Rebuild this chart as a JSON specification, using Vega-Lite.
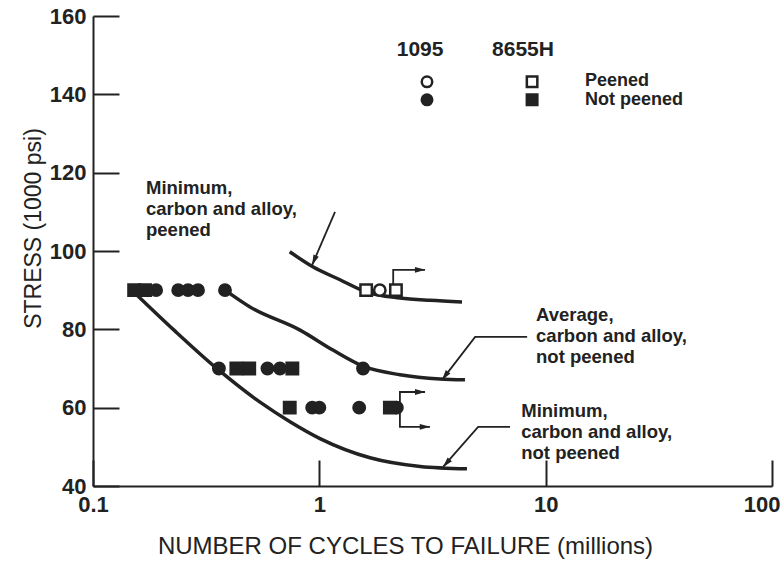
{
  "$schema": "https://vega.github.io/schema/vega-lite/v6.json",
  "width": 679,
  "height": 470,
  "autosize": {"type": "none"},
  "padding": {"left": 93, "top": 16, "right": 9, "bottom": 81},
  "background": "white",
  "config": {
    "view": {"stroke": null},
    "axis": {
      "domainColor": "#222", "domainWidth": 2, "tickColor": "#222", "tickWidth": 2,
      "tickSize": -26, "grid": false,
      "labelFont": "Liberation Sans", "labelFontWeight": "bold", "labelFontSize": 22, "labelColor": "#222",
      "titleFont": "Liberation Sans", "titleFontWeight": "normal", "titleColor": "#222"
    }
  },
  "datasets": {
    "curves": [
      {"curve": "peened", "ord": 1, "x": 0.74, "y": 99.8},
      {"curve": "peened", "ord": 2, "x": 0.94, "y": 95.9},
      {"curve": "peened", "ord": 3, "x": 1.24, "y": 92.6},
      {"curve": "peened", "ord": 4, "x": 1.6, "y": 89.6},
      {"curve": "peened", "ord": 5, "x": 2.27, "y": 88.0},
      {"curve": "peened", "ord": 6, "x": 3.08, "y": 87.4},
      {"curve": "peened", "ord": 7, "x": 4.27, "y": 87.0},
      {"curve": "average", "ord": 1, "x": 0.383, "y": 90},
      {"curve": "average", "ord": 2, "x": 0.494, "y": 85.7},
      {"curve": "average", "ord": 3, "x": 0.822, "y": 79.8},
      {"curve": "average", "ord": 4, "x": 1.148, "y": 74.7},
      {"curve": "average", "ord": 5, "x": 1.56, "y": 70.6},
      {"curve": "average", "ord": 6, "x": 2.27, "y": 68.4},
      {"curve": "average", "ord": 7, "x": 3.41, "y": 67.3},
      {"curve": "average", "ord": 8, "x": 4.4, "y": 67.1},
      {"curve": "minimum", "ord": 1, "x": 0.153, "y": 89.3},
      {"curve": "minimum", "ord": 2, "x": 0.23, "y": 79.6},
      {"curve": "minimum", "ord": 3, "x": 0.346, "y": 70.4},
      {"curve": "minimum", "ord": 4, "x": 0.547, "y": 61.4},
      {"curve": "minimum", "ord": 5, "x": 0.742, "y": 56.4},
      {"curve": "minimum", "ord": 6, "x": 1.007, "y": 52.1},
      {"curve": "minimum", "ord": 7, "x": 1.675, "y": 47.2},
      {"curve": "minimum", "ord": 8, "x": 2.79, "y": 45.0},
      {"curve": "minimum", "ord": 9, "x": 4.49, "y": 44.4}
    ],
    "leaders": [
      {"seg": "a", "ord": 1, "x": 1.173, "y": 110},
      {"seg": "a", "ord": 2, "x": 0.929, "y": 96.4},
      {"seg": "b", "ord": 1, "x": 8.28, "y": 78.05},
      {"seg": "b", "ord": 2, "x": 4.88, "y": 78.05},
      {"seg": "b", "ord": 3, "x": 3.485, "y": 67.1},
      {"seg": "c", "ord": 1, "x": 6.96, "y": 55.1},
      {"seg": "c", "ord": 2, "x": 5.03, "y": 55.1},
      {"seg": "c", "ord": 3, "x": 3.52, "y": 44.9},
      {"seg": "d", "ord": 1, "x": 2.12, "y": 91.5},
      {"seg": "d", "ord": 2, "x": 2.12, "y": 95.2},
      {"seg": "d", "ord": 3, "x": 2.93, "y": 95.2},
      {"seg": "e", "ord": 1, "x": 2.93, "y": 64.0},
      {"seg": "e", "ord": 2, "x": 2.27, "y": 64.0},
      {"seg": "e", "ord": 3, "x": 2.27, "y": 55.1},
      {"seg": "e", "ord": 4, "x": 3.08, "y": 55.1}
    ],
    "heads": [
      {"dir": "right", "x": 2.79, "y": 95.2},
      {"dir": "right", "x": 2.79, "y": 64.0},
      {"dir": "right", "x": 2.93, "y": 55.1},
      {"dir": "a", "x": 0.948, "y": 97.6},
      {"dir": "b", "x": 3.59, "y": 68.1},
      {"dir": "c", "x": 3.64, "y": 45.8}
    ],
    "points": [
      {"steel": "8655H", "cond": "Not peened", "x": 0.152, "y": 90},
      {"steel": "8655H", "cond": "Not peened", "x": 0.17, "y": 90},
      {"steel": "1095", "cond": "Not peened", "x": 0.19, "y": 90},
      {"steel": "1095", "cond": "Not peened", "x": 0.238, "y": 90},
      {"steel": "1095", "cond": "Not peened", "x": 0.263, "y": 90},
      {"steel": "1095", "cond": "Not peened", "x": 0.291, "y": 90},
      {"steel": "1095", "cond": "Not peened", "x": 0.383, "y": 90},
      {"steel": "1095", "cond": "Not peened", "x": 0.36, "y": 70},
      {"steel": "8655H", "cond": "Not peened", "x": 0.43, "y": 70},
      {"steel": "8655H", "cond": "Not peened", "x": 0.49, "y": 70},
      {"steel": "1095", "cond": "Not peened", "x": 0.59, "y": 70},
      {"steel": "1095", "cond": "Not peened", "x": 0.67, "y": 70},
      {"steel": "8655H", "cond": "Not peened", "x": 0.76, "y": 70},
      {"steel": "1095", "cond": "Not peened", "x": 1.56, "y": 70},
      {"steel": "8655H", "cond": "Not peened", "x": 0.74, "y": 60},
      {"steel": "1095", "cond": "Not peened", "x": 0.93, "y": 60},
      {"steel": "1095", "cond": "Not peened", "x": 1.0, "y": 60},
      {"steel": "1095", "cond": "Not peened", "x": 1.5, "y": 60},
      {"steel": "8655H", "cond": "Not peened", "x": 2.05, "y": 60},
      {"steel": "1095", "cond": "Not peened", "x": 2.2, "y": 60},
      {"steel": "8655H", "cond": "Peened", "x": 1.61, "y": 90},
      {"steel": "1095", "cond": "Peened", "x": 1.85, "y": 90},
      {"steel": "8655H", "cond": "Peened", "x": 2.18, "y": 90}
    ],
    "key": [
      {"steel": "1095", "cond": "Peened", "x": 2.99, "y": 143.2},
      {"steel": "1095", "cond": "Not peened", "x": 2.99, "y": 138.6},
      {"steel": "8655H", "cond": "Peened", "x": 8.71, "y": 143.2},
      {"steel": "8655H", "cond": "Not peened", "x": 8.71, "y": 138.6}
    ],
    "notes": [
      {"x": 0.1715, "y": 116.1, "label": "Minimum,"},
      {"x": 0.1715, "y": 110.7, "label": "carbon and alloy,"},
      {"x": 0.1715, "y": 105.4, "label": "peened"},
      {"x": 9.07, "y": 83.7, "label": "Average,"},
      {"x": 9.07, "y": 78.3, "label": "carbon and alloy,"},
      {"x": 9.07, "y": 72.9, "label": "not peened"},
      {"x": 7.8, "y": 59.2, "label": "Minimum,"},
      {"x": 7.8, "y": 53.9, "label": "carbon and alloy,"},
      {"x": 7.8, "y": 48.5, "label": "not peened"}
    ],
    "keytext": [
      {"x": 14.93, "y": 143.3, "label": "Peened"},
      {"x": 14.93, "y": 138.5, "label": "Not peened"}
    ],
    "headers": [
      {"x": 2.787, "y": 151.3, "label": "1095"},
      {"x": 7.94, "y": 151.3, "label": "8655H"}
    ]
  },
  "encoding": {
    "x": {"field": "x", "type": "quantitative",
      "scale": {"type": "log", "domain": [0.1, 100], "nice": false},
      "axis": {"values": [0.1, 1, 10, 100], "format": "~g", "labelPadding": 34, "labelFlush": false, "labelOverlap": false,
        "labelAlign": {"condition": {"test": "datum.value >= 100", "value": "right"}, "value": "center"},
        "labelOffset": {"condition": {"test": "datum.value >= 100", "value": 8}, "value": 0},
        "title": "NUMBER OF CYCLES TO FAILURE (millions)", "titleFontSize": 24, "titlePadding": 19, "titleX": 312, "titleAlign": "center"}},
    "y": {"field": "y", "type": "quantitative",
      "scale": {"domain": [40, 160], "nice": false, "zero": false},
      "axis": {"values": [40, 60, 80, 100, 120, 140, 160], "labelPadding": 33,
        "title": "STRESS (1000 psi)", "titleFontSize": 23, "titlePadding": 4, "titleY": 212, "titleAlign": "center"}}
  },
  "layer": [
    {
      "data": {"name": "curves"},
      "mark": {"type": "line", "color": "#222", "strokeWidth": 3.5, "interpolate": "monotone"},
      "encoding": {"detail": {"field": "curve"}, "order": {"field": "ord", "type": "quantitative"}}
    },
    {
      "data": {"name": "leaders"},
      "mark": {"type": "line", "color": "#222", "strokeWidth": 1.8},
      "encoding": {"detail": {"field": "seg"}, "order": {"field": "ord", "type": "quantitative"}}
    },
    {
      "data": {"name": "heads"},
      "transform": [{"filter": "datum.dir === 'right'"}],
      "mark": {"type": "point", "shape": "M0,-1L0.55,1L-0.55,1Z", "filled": true, "color": "#222", "size": 110, "angle": 90, "opacity": 1}
    },
    {
      "data": {"name": "heads"},
      "transform": [{"filter": "datum.dir === 'a'"}],
      "mark": {"type": "point", "shape": "M0,-1L0.55,1L-0.55,1Z", "filled": true, "color": "#222", "size": 110, "angle": 203, "opacity": 1}
    },
    {
      "data": {"name": "heads"},
      "transform": [{"filter": "datum.dir === 'b'"}],
      "mark": {"type": "point", "shape": "M0,-1L0.55,1L-0.55,1Z", "filled": true, "color": "#222", "size": 110, "angle": 217, "opacity": 1}
    },
    {
      "data": {"name": "heads"},
      "transform": [{"filter": "datum.dir === 'c'"}],
      "mark": {"type": "point", "shape": "M0,-1L0.55,1L-0.55,1Z", "filled": true, "color": "#222", "size": 110, "angle": 221, "opacity": 1}
    },
    {
      "data": {"name": "points"},
      "mark": {"type": "point", "stroke": "#222", "strokeWidth": 2.5, "size": 130, "opacity": 1},
      "encoding": {
        "shape": {"field": "steel", "type": "nominal", "scale": {"domain": ["1095", "8655H"], "range": ["circle", "square"]}, "legend": null},
        "fill": {"field": "cond", "type": "nominal", "scale": {"domain": ["Peened", "Not peened"], "range": ["white", "#222"]}, "legend": null}
      }
    },
    {
      "data": {"name": "key"},
      "mark": {"type": "point", "stroke": "#222", "strokeWidth": 2.5, "size": 110, "opacity": 1},
      "encoding": {
        "shape": {"field": "steel", "type": "nominal", "scale": {"domain": ["1095", "8655H"], "range": ["circle", "square"]}, "legend": null},
        "fill": {"field": "cond", "type": "nominal", "scale": {"domain": ["Peened", "Not peened"], "range": ["white", "#222"]}, "legend": null}
      }
    },
    {
      "data": {"name": "notes"},
      "mark": {"type": "text", "align": "left", "baseline": "middle", "font": "Liberation Sans", "fontWeight": "bold", "fontSize": 18.5, "color": "#222"},
      "encoding": {"text": {"field": "label"}}
    },
    {
      "data": {"name": "keytext"},
      "mark": {"type": "text", "align": "left", "baseline": "middle", "font": "Liberation Sans", "fontWeight": "bold", "fontSize": 18, "color": "#222"},
      "encoding": {"text": {"field": "label"}}
    },
    {
      "data": {"name": "headers"},
      "mark": {"type": "text", "align": "center", "baseline": "middle", "font": "Liberation Sans", "fontWeight": "bold", "fontSize": 21, "color": "#222"},
      "encoding": {"text": {"field": "label"}}
    }
  ]
}
